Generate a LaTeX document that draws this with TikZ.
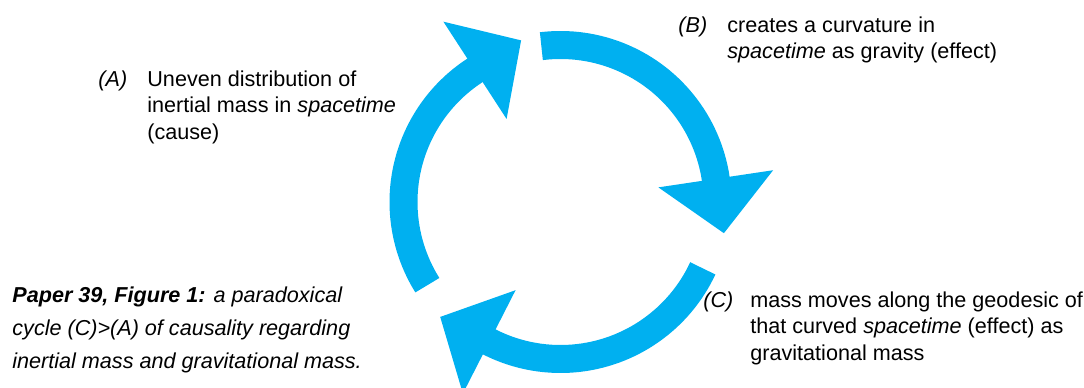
\documentclass[tikz,border=0pt]{standalone}
\usepackage{fontspec}
\setmainfont{Liberation Sans}
\usetikzlibrary{calc}
\definecolor{cyclecyan}{RGB}{0,176,240}
\tikzset{
  cycle band/.style={draw=cyclecyan, line width=14pt},
  cycle head/.style={fill=cyclecyan},
  label text/.style={inner sep=0pt, anchor=base west, align=left, font=\fontsize{10.8}{13.35}\selectfont},
  caption text/.style={inner sep=0pt, anchor=base west, align=left, font=\fontsize{10.8}{16.65}\selectfont\itshape},
}
\begin{document}
\begin{tikzpicture}[x=0.5pt,y=0.5pt]
  \useasboundingbox (0,0) rectangle (1084,387);
  \coordinate (hub) at (560.5,185);

  % Draw the three arrows of the cycle
  \foreach \tail/\head in {212/123, 97/8.5, 335/243} {
    \pgfmathsetmacro{\arcend}{\head-2}
    \draw[cycle band] ($(hub)+(\tail:157)$) arc[start angle=\tail, end angle=\arcend, radius=157];
    \fill[cycle head] ($(hub)+(\head:99)$) -- ($(hub)+(\head:215)$) -- ($(hub)+(\head:157)+({\head-90}:55)$) -- cycle;
  };

  % Labels of the three steps (multi-line nodes sit on their last line)
  \node[label text] (tagA) at (98,301) {\textit{(A)}};
  \node[label text] (textA) at (147,247.6) {Uneven distribution of\\inertial mass in \textit{spacetime}\\(cause)};
  \node[label text] (tagB) at (678,355) {\textit{(B)}};
  \node[label text] (textB) at (727,328.3) {creates a curvature in\\\textit{spacetime} as gravity (effect)};
  \node[label text] (tagC) at (703,80) {\textit{(C)}};
  \node[label text] (textC) at (750,26.6) {mass moves along the geodesic of\\that curved \textit{spacetime} (effect) as\\gravitational mass};

  % Caption
  \node[caption text] (caption) at (12,18.4) {\textbf{Paper 39, Figure 1:} a paradoxical\\cycle (C)>(A) of causality regarding\\inertial mass and gravitational mass.};
\end{tikzpicture}
\end{document}
